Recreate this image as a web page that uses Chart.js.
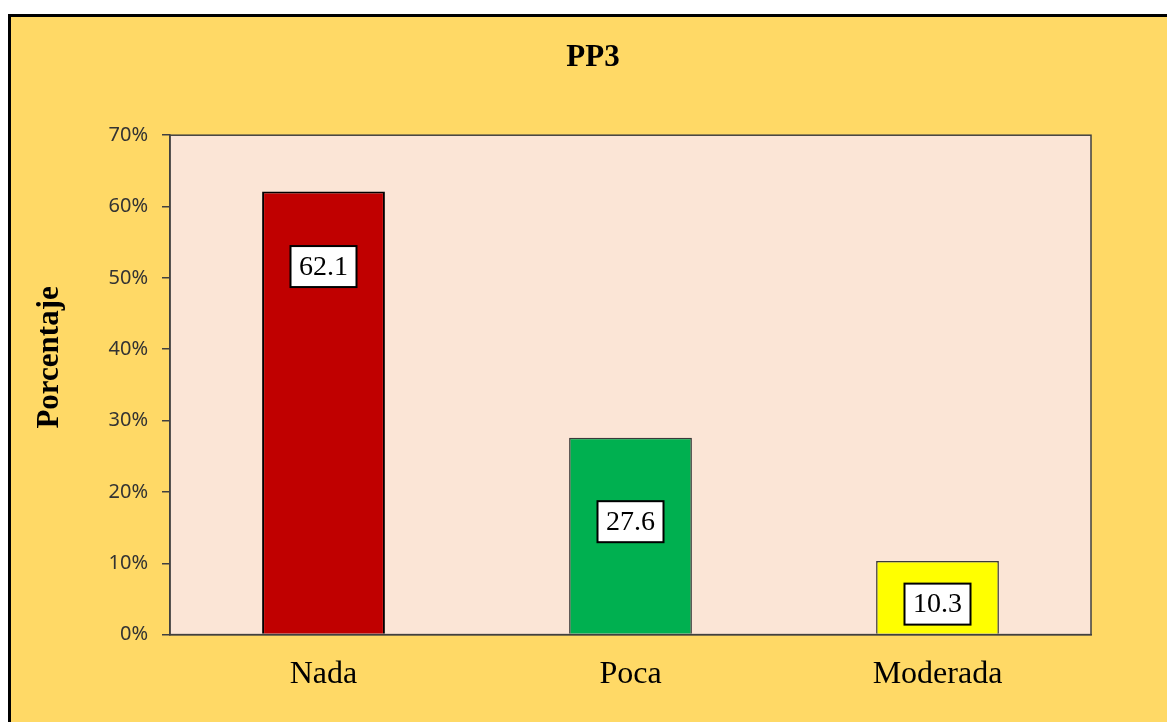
<!DOCTYPE html>
<html>
<head>
<meta charset="utf-8">
<script src="https://cdn.jsdelivr.net/npm/chart.js@4.4.0/dist/chart.umd.min.js"></script>
<style>
  html, body { margin: 0; padding: 0; background: #fff; }
  #wrap { width: 1167px; height: 722px; }
</style>
</head>
<body>
<div id="wrap"><canvas id="chart"></canvas></div>
<script>
const categories = ["Nada", "Poca", "Moderada"];
const values = [62.1, 27.6, 10.3];
const barColors = ["#C00000", "#00B050", "#FFFF00"];
const yTicks = [0, 10, 20, 30, 40, 50, 60, 70];
const yTitle = "Porcentaje";

// per-bar offset of the value box below the bar top (px)
const labelOffsets = [75, 84, 43];

const serif = "'Liberation Serif', 'Times New Roman', serif";

// yellow chart frame + peach plot area + axis title
const backgroundPlugin = {
  id: "frameBg",
  beforeDraw(chart) {
    const c = chart.ctx;
    const a = chart.chartArea;
    c.save();
    c.fillStyle = "#ffffff";
    c.fillRect(0, 0, chart.width, chart.height);
    c.fillStyle = "#FFD966";
    c.fillRect(9, 14, chart.width - 9, chart.height - 14);
    c.strokeStyle = "#000000";
    c.lineWidth = 3;
    c.beginPath();
    c.moveTo(9.5, chart.height);
    c.lineTo(9.5, 15.5);
    c.lineTo(chart.width, 15.5);
    c.stroke();
    c.fillStyle = "#FBE5D6";
    c.fillRect(a.left, a.top, a.right - a.left, a.bottom - a.top);
    c.restore();
  },
  afterDraw(chart) {
    const c = chart.ctx;
    const a = chart.chartArea;
    c.save();
    c.strokeStyle = "#404040";
    c.lineWidth = 1.5;
    c.strokeRect(a.left, a.top, a.right - a.left, a.bottom - a.top);
    // y axis title sits a bit above the axis middle in the original
    c.translate(50, a.top + (a.bottom - a.top) * 0.445);
    c.rotate(-Math.PI / 2);
    c.font = "bold 31px " + serif;
    c.fillStyle = "#000000";
    c.textAlign = "center";
    c.textBaseline = "middle";
    c.fillText(yTitle, 0, 0);
    c.restore();
  }
};

// white boxed value labels
const valueBoxPlugin = {
  id: "valueBoxes",
  afterDatasetsDraw(chart) {
    const c = chart.ctx;
    const meta = chart.getDatasetMeta(0);
    c.save();
    c.font = "28px " + serif;
    c.textAlign = "center";
    c.textBaseline = "middle";
    meta.data.forEach((bar, i) => {
      const cx = bar.x;
      const cy = bar.y + labelOffsets[i];
      const w = 66, h = 41;
      c.fillStyle = "#ffffff";
      c.fillRect(cx - w / 2, cy - h / 2, w, h);
      c.strokeStyle = "#000000";
      c.lineWidth = 2;
      c.strokeRect(cx - w / 2, cy - h / 2, w, h);
      c.fillStyle = "#000000";
      c.fillText(values[i].toFixed(1), cx, cy + 1);
    });
    c.restore();
  }
};

const ctx = document.getElementById("chart").getContext("2d");
new Chart(ctx, {
  type: "bar",
  data: {
    labels: categories,
    datasets: [
      {
        data: values,
        backgroundColor: barColors,
        borderColor: ["#000000", "#3a3a3a", "#3a3a3a"],
        borderWidth: [2, 1.5, 1.5],
        barPercentage: 0.4,
        categoryPercentage: 1.0,
      },
    ],
  },
  options: {
    responsive: true,
    maintainAspectRatio: false,
    animation: false,
    devicePixelRatio: 1,
    layout: { padding: { top: 39, left: 19, right: 0, bottom: 15 } },
    plugins: {
      legend: { display: false },
      tooltip: { enabled: false },
      title: {
        display: true,
        text: "PP3",
        color: "#000000",
        font: { family: serif, size: 31, weight: "bold" },
        padding: { top: 0, bottom: 59 },
      },
    },
    scales: {
      x: {
        grid: { display: false },
        border: { color: "#404040", width: 1.5 },
        ticks: {
          color: "#000000",
          padding: 13,
          font: { family: serif, size: 32 },
        },
      },
      y: {
        min: 0,
        max: 70,
        afterBuildTicks(scale) {
          scale.ticks = yTicks.map((v) => ({ value: v }));
        },
        afterFit(scale) {
          scale.width = 151;
        },
        grid: {
          drawOnChartArea: false,
          drawTicks: true,
          tickLength: 8,
          color: "#404040",
          lineWidth: 1.5,
        },
        border: { color: "#404040", width: 1.5 },
        ticks: {
          color: "#333333",
          padding: 14,
          font: { family: "'Noto Sans', 'Liberation Sans', sans-serif", size: 20 },
          callback: (v) => v + "%",
        },
      },
      // empty right-hand spacer so the plot ends where the reference does
      spacer: {
        type: "linear",
        position: "right",
        grid: { display: false },
        border: { display: false },
        ticks: { display: false },
        afterFit(scale) {
          scale.width = 76;
        },
      },
    },
  },
  plugins: [backgroundPlugin, valueBoxPlugin],
});
</script>
</body>
</html>
